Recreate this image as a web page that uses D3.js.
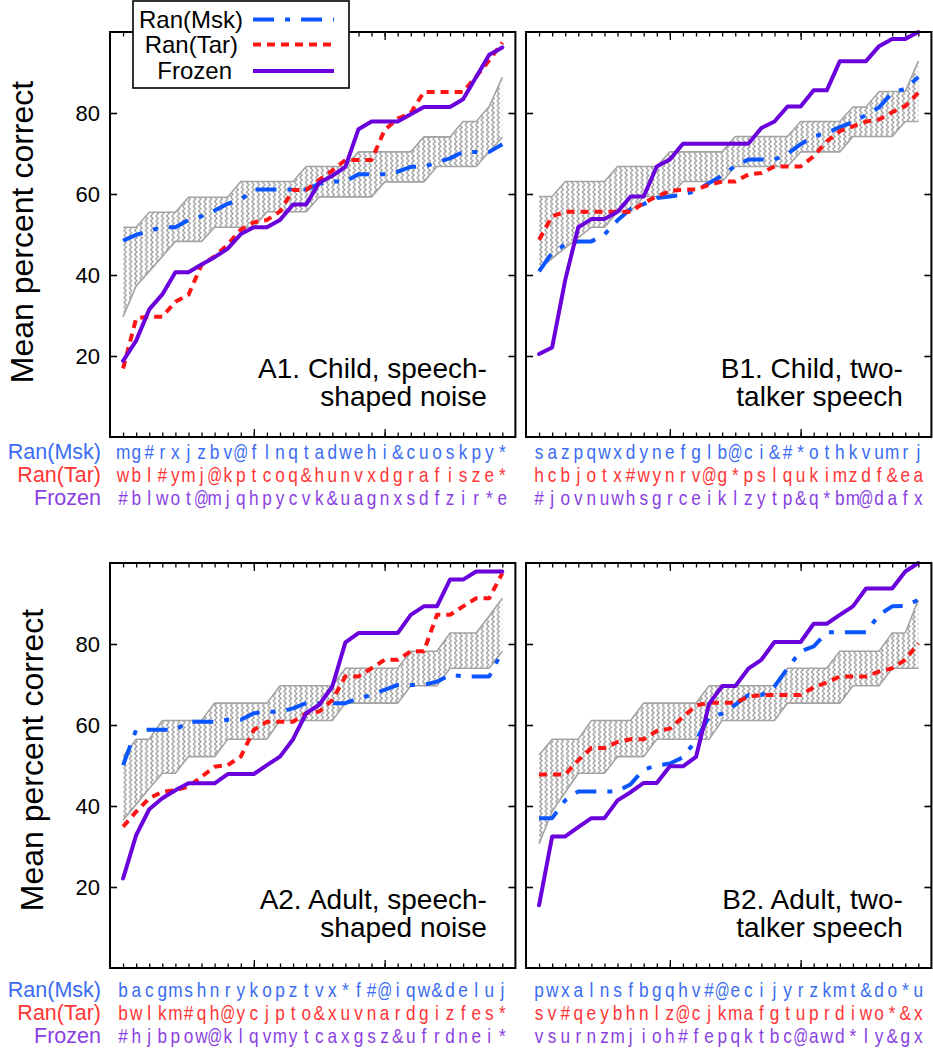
<!DOCTYPE html>
<html><head><meta charset="utf-8">
<script src="https://cdn.jsdelivr.net/npm/d3@7"></script>
<style>
body{margin:0;background:#fff}
svg{display:block}
text{font-family:"Liberation Sans",Arial,Helvetica,sans-serif}
</style>
</head><body>
<svg id="chart" width="933" height="1050"></svg>
<script>
// ---------- data ----------
const seriesNames = ["Ran(Msk)", "Ran(Tar)", "Frozen"];
const yTickValues = [20, 40, 60, 80];
const xMinorTicks = d3.range(0, 30);
const xMajorTicks = [10, 20];
const yLabel = "Mean percent correct";

const titleA1 = ["A1. Child, speech-", "shaped noise"];
const titleB1 = ["B1. Child, two-", "talker speech"];
const titleA2 = ["A2. Adult, speech-", "shaped noise"];
const titleB2 = ["B2. Adult, two-", "talker speech"];

// A1 Child, speech-shaped noise
const a1Msk    = [48.5,49.9,50.9,51.8,51.8,53.6,54.5,55.9,57.6,58.6,61.1,61.1,61.1,61.1,61.1,62.5,63.1,63.1,64.9,64.9,64.9,65.5,66.7,66.7,67.9,68.8,70.4,70.4,70.4,72.3];
const a1Tar    = [16.9,29.3,29.7,29.7,33.4,35.1,42.5,44.6,47.5,51.2,53.0,53.6,55.7,61.0,61.0,63.5,65.8,68.4,68.4,68.4,75.8,78.6,80.0,85.2,85.2,85.2,85.2,89.0,93.0,97.4];
const a1Frozen = [18.8,23.8,31.5,35.2,40.7,40.7,42.6,44.4,46.5,50.1,51.8,51.8,53.6,57.4,57.4,62.8,64.5,66.7,76.0,77.9,77.9,77.9,79.7,81.5,81.5,81.5,83.4,88.9,94.4,96.2];
const a1Upper  = [51.8,51.8,55.5,55.5,55.5,59.2,59.2,59.2,59.2,63.1,63.1,63.1,63.1,63.1,66.8,66.8,66.8,66.8,70.4,70.4,70.4,70.4,70.4,74.1,74.1,74.1,77.9,77.9,81.6,88.8];
const a1Lower  = [29.7,37.3,40.9,44.6,48.3,48.3,48.3,51.8,51.8,51.8,51.8,55.6,55.6,55.6,55.6,59.3,59.3,59.3,59.3,59.3,63.0,63.0,63.0,63.0,66.8,66.8,66.8,66.8,70.5,74.0];
const a1LabMsk    = "mg#rxjzbv@flnqtadwehi&cuoskpy*";
const a1LabTar    = "wbl#ymj@kptcoq&hunvxdgrafisze*";
const a1LabFrozen = "#blwot@mjqhpycvk&uagnxsdfzir*e";

// B1 Child, two-talker speech
const b1Msk    = [40.9,45.5,47.5,48.3,48.3,50.0,53.5,56.3,57.5,59.0,59.4,59.8,60.8,62.7,64.5,67.0,68.5,68.5,68.5,69.9,72.3,74.2,75.1,76.5,77.8,79.5,81.4,85.0,86.0,88.9];
const b1Tar    = [48.7,54.5,55.6,55.6,55.6,55.6,55.6,55.6,57.8,59.4,60.7,61.1,61.1,62.3,63.1,63.1,64.8,65.2,66.8,66.8,66.8,69.3,73.0,75.5,76.7,77.9,78.4,80.2,81.7,85.0];
const b1Frozen = [20.5,22.1,38.8,51.8,53.8,53.8,55.6,59.4,59.4,66.8,68.5,72.4,72.4,72.4,72.4,72.4,72.4,76.3,77.9,81.6,81.6,85.6,85.6,92.8,92.8,92.8,96.5,98.3,98.3,100];
const b1Upper  = [59.4,59.4,63.1,63.1,63.1,63.1,66.8,66.8,66.8,66.8,70.4,70.4,70.4,70.4,70.4,74.2,74.2,74.2,74.2,74.2,77.9,77.9,77.9,77.9,81.5,81.5,85.3,85.3,85.3,92.8];
const b1Lower  = [41.5,44.1,46.7,49.2,51.8,51.8,55.6,55.6,59.4,59.4,59.4,63.1,63.1,63.1,63.1,66.8,66.8,66.8,66.8,66.8,70.4,70.4,70.4,70.4,74.2,74.2,74.2,74.2,77.9,77.9];
const b1LabMsk    = "sazpqwxdynefglb@ci&#*othkvumrj";
const b1LabTar    = "hcbjotx#wynrv@g*pslqukimzdf&ea";
const b1LabFrozen = "#jovnuwhsgrceiklzytp&q*bm@dafx";

// A2 Adult, speech-shaped noise
const a2Msk    = [50.1,58.8,58.8,58.8,58.8,60.8,60.8,60.8,61.3,61.3,62.9,63.3,63.3,64.1,65.4,65.4,65.4,65.4,66.6,67.4,68.7,69.9,69.9,69.9,70.7,72.4,72.0,72.0,72.0,78.2];
const a2Tar    = [34.9,38.6,41.9,43.5,43.9,44.8,47.2,49.7,50.1,52.2,58.8,60.8,60.8,60.8,62.9,63.3,66.2,72.0,72.0,74.0,76.1,76.1,78.2,78.2,87.2,87.2,89.3,91.3,91.3,97.5];
const a2Frozen = [22.1,32.8,39.2,41.9,43.9,45.6,45.6,45.6,47.9,47.9,47.9,50.1,52.2,56.5,62.9,65.0,69.5,80.4,82.7,82.7,82.7,82.7,87.2,89.3,89.3,95.9,95.9,97.9,97.9,97.9];
const a2Upper  = [52.2,56.5,56.5,61.1,61.1,61.1,61.1,65.4,65.4,65.4,65.4,65.4,69.7,69.7,69.7,69.7,69.7,74.0,74.0,74.0,74.0,74.0,78.2,78.2,78.2,82.7,82.7,82.7,86.9,91.3];
const a2Lower  = [36.5,40.4,44.3,48.1,48.1,52.2,52.2,52.2,56.5,56.5,56.5,56.5,61.1,61.1,61.1,61.1,61.1,65.4,65.4,65.4,65.4,65.4,69.7,69.7,69.7,74.0,74.0,74.0,74.0,78.2];
const a2LabMsk    = "bacgmshnrykopztvx*f#@iqw&deluj";
const a2LabTar    = "bwlkm#qh@ycjpto&xuvnardgizfes*";
const a2LabFrozen = "#hjbpow@klqvmytcaxgsz&ufrdnei*";

// B2 Adult, two-talker speech
const b2Msk    = [37.0,37.0,41.4,43.6,43.6,43.6,43.6,45.4,49.0,50.0,50.5,52.0,56.2,62.0,62.8,65.0,67.4,67.4,69.5,74.0,78.2,79.4,82.9,82.9,82.9,82.9,87.2,89.3,89.4,90.9];
const b2Tar    = [47.8,47.8,47.8,51.3,54.3,54.3,55.8,56.5,56.5,58.5,59.1,62.0,64.8,65.5,65.5,65.5,67.0,67.4,67.4,67.4,67.4,69.3,70.5,72.0,72.0,72.0,73.2,74.0,76.1,80.2];
const b2Frozen = [15.5,32.5,32.5,34.8,37.0,37.0,41.4,43.4,45.7,45.7,49.8,49.8,52.1,65.2,69.6,69.6,73.9,76.1,80.5,80.5,80.5,85.0,85.0,87.2,89.3,93.7,93.7,93.7,97.9,100];
const b2Upper  = [52.6,56.5,56.5,56.5,61.1,61.1,61.1,61.1,65.4,65.4,65.4,65.4,65.4,69.7,69.7,69.7,69.7,69.7,69.7,74.0,74.0,74.0,74.0,78.2,78.2,78.2,78.2,82.7,82.7,90.9];
const b2Lower  = [30.7,38.7,43.4,48.1,48.1,48.1,52.2,52.2,52.2,56.5,56.5,56.5,56.5,56.5,61.1,61.1,61.1,61.1,61.1,65.4,65.4,65.4,65.4,65.4,69.7,69.7,69.7,74.0,74.0,74.0];
const b2LabMsk    = "pwxalnsfbgqhv#@ecijyrzkmt&do*u";
const b2LabTar    = "sv#qeybhnlz@cjkmafgtuprdiwo*&x";
const b2LabFrozen = "vsurnzmjioh#fepqktbc@awd*ly&gx";

// ---------- styles ----------
const lineColors  = ["#0a55ff", "#ff1414", "#6a00dc"];
const labelColors = ["#3a6cf2", "#ff3535", "#8a3fe2"];
const dashes      = ["21,11,5,11", "8,6", null];

const panels = [
  {x0:110, y0:32,  title:titleA1, series:[a1Msk,a1Tar,a1Frozen], up:a1Upper, lo:a1Lower, labs:[a1LabMsk,a1LabTar,a1LabFrozen], left:true,  ylx:33, yly:232, rowOff:21.5},
  {x0:526, y0:32,  title:titleB1, series:[b1Msk,b1Tar,b1Frozen], up:b1Upper, lo:b1Lower, labs:[b1LabMsk,b1LabTar,b1LabFrozen], left:false, rowOff:21.5},
  {x0:110, y0:563, title:titleA2, series:[a2Msk,a2Tar,a2Frozen], up:a2Upper, lo:a2Lower, labs:[a2LabMsk,a2LabTar,a2LabFrozen], left:true,  ylx:43, yly:760, rowOff:28.5},
  {x0:526, y0:563, title:titleB2, series:[b2Msk,b2Tar,b2Frozen], up:b2Upper, lo:b2Lower, labs:[b2LabMsk,b2LabTar,b2LabFrozen], left:false, rowOff:28.5}
];

const W = 405.4, H = 405;
const svg = d3.select("#chart");

// zigzag pattern for the band
const defs = svg.append("defs");
const pat = defs.append("pattern").attr("id","zig").attr("patternUnits","userSpaceOnUse")
  .attr("width",5.33).attr("height",4.8);
pat.append("path").attr("d","M1.2,0 L3.9,2.4 L1.2,4.8").attr("fill","none")
  .attr("stroke","#8c8c8c").attr("stroke-width",1);

panels.forEach(p => {
  const x = d3.scaleLinear().domain([-1, 30]).range([p.x0, p.x0 + W]);
  const y = d3.scaleLinear().domain([0, 100]).range([p.y0 + H, p.y0]);
  const g = svg.append("g");
  const idx = d3.range(30);

  // band
  const area = d3.area().x(i => x(i)).y0(i => y(p.lo[i])).y1(i => y(p.up[i]));
  g.append("path").attr("d", area(idx)).attr("fill","url(#zig)").attr("stroke","none");
  [p.up, p.lo].forEach(b => {
    g.append("path").attr("d", d3.line().x(i => x(i)).y(i => y(b[i]))(idx))
      .attr("fill","none").attr("stroke","#a3a3a3").attr("stroke-width",1.6);
  });

  // axes
  const yl = g.append("g").attr("transform",`translate(${p.x0},0)`)
    .call(d3.axisLeft(y).tickValues(yTickValues).tickSize(-7).tickPadding(10)
      .tickFormat(p.left ? d3.format("d") : ""));
  yl.select(".domain").remove();
  yl.selectAll("line").attr("stroke","#000").attr("stroke-width",1.6);
  yl.selectAll("text").attr("font-size",22).attr("fill","#000")
    .attr("font-family",'"Liberation Sans",Arial,sans-serif');
  const yr = g.append("g").attr("transform",`translate(${p.x0+W},0)`)
    .call(d3.axisRight(y).tickValues(yTickValues).tickSize(-7).tickFormat(""));
  yr.select(".domain").remove();
  yr.selectAll("line").attr("stroke","#000").attr("stroke-width",1.6);

  [[xMinorTicks,-4.5],[xMajorTicks,-8]].forEach(([vals, sz]) => {
    const xb = g.append("g").attr("transform",`translate(0,${p.y0+H})`)
      .call(d3.axisBottom(x).tickValues(vals).tickSize(sz).tickFormat(""));
    const xt = g.append("g").attr("transform",`translate(0,${p.y0})`)
      .call(d3.axisTop(x).tickValues(vals).tickSize(sz).tickFormat(""));
    [xb, xt].forEach(a => { a.select(".domain").remove();
      a.selectAll("line").attr("stroke","#000").attr("stroke-width",1.3); });
  });

  // series
  p.series.forEach((s, k) => {
    const path = g.append("path")
      .attr("d", d3.line().x((d,i) => x(i)).y(d => y(d))(s))
      .attr("fill","none").attr("stroke", lineColors[k]).attr("stroke-width",4)
      .attr("stroke-linejoin","round");
    if (dashes[k]) path.attr("stroke-dasharray", dashes[k]);
    else path.attr("stroke-linecap","round");
  });

  // frame
  g.append("rect").attr("x",p.x0).attr("y",p.y0).attr("width",W).attr("height",H)
    .attr("fill","none").attr("stroke","#000").attr("stroke-width",2);

  // panel title
  const tx = p.x0 + W - 28.5;
  p.title.forEach((t, j) => {
    g.append("text").attr("x",tx).attr("y",p.y0 + H - 59 + j*28)
      .attr("text-anchor","end").attr("font-size",28).attr("fill","#000").text(t);
  });

  // category letter rows
  const baseY = [0, 1, 2].map(k => p.y0 + H + p.rowOff + k*23.4);
  p.labs.forEach((str, k) => {
    if (p.left) {
      g.append("text").attr("x",101).attr("y",baseY[k]).attr("text-anchor","end")
        .attr("font-size",21.5).attr("fill",labelColors[k]).text(seriesNames[k]);
    }
    g.selectAll(null).data(str.split("")).enter().append("text")
      .attr("transform",(c,i) => `translate(${x(i)},${baseY[k]}) scale(${c === "@" ? 0.7 : 0.82},1)`)
      .attr("text-anchor","middle").attr("font-size",21).attr("fill",labelColors[k])
      .text(c => c);
  });

  // y label
  if (p.left) {
    g.append("text").attr("transform",`translate(${p.ylx},${p.yly}) rotate(-90)`)
      .attr("text-anchor","middle").attr("font-size",32).attr("fill","#000").text(yLabel);
  }
});

// legend
const lg = svg.append("g");
lg.append("rect").attr("x",133).attr("y",1).attr("width",216).attr("height",87)
  .attr("fill","#fff").attr("stroke","#000").attr("stroke-width",1.6);
const legendTextX = [243, 238, 232];
const legendRowY = [19.5, 44.5, 71];
seriesNames.forEach((n, k) => {
  lg.append("text").attr("x",legendTextX[k]).attr("y",legendRowY[k]+8.3)
    .attr("text-anchor","end").attr("font-size",24).attr("fill","#000").text(n);
  const l = lg.append("line").attr("x1",253).attr("x2",334)
    .attr("y1",legendRowY[k]).attr("y2",legendRowY[k])
    .attr("stroke",lineColors[k]).attr("stroke-width",4);
  if (dashes[k]) l.attr("stroke-dasharray", dashes[k]);
});
</script>
</body></html>
